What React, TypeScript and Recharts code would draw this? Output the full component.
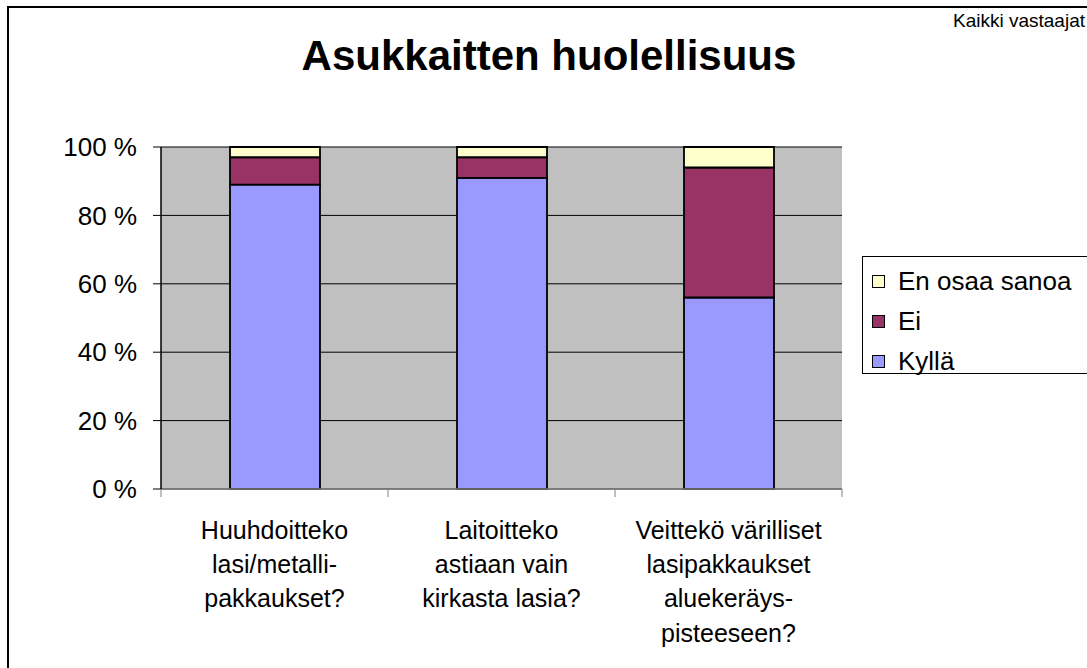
import { BarChart, Bar, XAxis, YAxis, CartesianGrid } from 'recharts'

const CATEGORIES = [
  'Huuhdoitteko\nlasi/metalli-\npakkaukset?',
  'Laitoitteko\nastiaan vain\nkirkasta lasia?',
  'Veittekö värilliset\nlasipakkaukset\naluekeräys-\npisteeseen?',
]
const KYLLA = [89, 91, 56]
const EI = [8, 6, 38]
const EN_OSAA = [3, 3, 6]
const Y_TICKS = [0, 20, 40, 60, 80, 100]

const SERIES = [
  { key: 'kylla', name: 'Kyllä', color: '#9999FF' },
  { key: 'ei', name: 'Ei', color: '#993366' },
  { key: 'enOsaa', name: 'En osaa sanoa', color: '#FFFFCC' },
]

const W = 1087
const H = 668
const Y_AXIS_W = 120
const X_AXIS_H = 160
const MARGIN = { top: 147, right: 245, bottom: H - 489 - X_AXIS_H, left: 161 - Y_AXIS_W }
const PLOT_W = W - MARGIN.left - MARGIN.right - Y_AXIS_W

const data = CATEGORIES.map((label, i) => ({
  label,
  kylla: KYLLA[i],
  ei: EI[i],
  enOsaa: EN_OSAA[i],
}))

const FONT = '"Liberation Sans", Arial, sans-serif'

function CategoryTick(props: any) {
  const { x, y, payload, index } = props
  const lines = String(payload.value).split('\n')
  const half = PLOT_W / CATEGORIES.length / 2
  const last = index === CATEGORIES.length - 1
  return (
    <g>
      <line x1={x - half} x2={x - half} y1={y} y2={y + 8} stroke="#808080" />
      {last && <line x1={x + half} x2={x + half} y1={y} y2={y + 8} stroke="#808080" />}
      <text x={x} y={y + 50} textAnchor="middle" fontSize={25} fill="#000" fontFamily={FONT}>
        {lines.map((l, i) => (
          <tspan key={i} x={x} dy={i === 0 ? 0 : 34.2}>{l}</tspan>
        ))}
      </text>
    </g>
  )
}

export default function App() {
  // legend is listed top-down in reverse stacking order, like the original
  const legendItems = [...SERIES].reverse()
  return (
    <div style={{ position: 'absolute', left: 0, top: 0, width: W, height: H, overflow: 'hidden', background: '#fff', fontFamily: FONT }}>
      <div style={{ position: 'absolute', left: 7, top: 6, width: 1200, height: 800, border: '2px solid #000' }} />
      <div style={{ position: 'absolute', right: 2, top: 11, fontSize: 19, lineHeight: '19px', color: '#000' }}>Kaikki vastaajat</div>
      <div style={{ position: 'absolute', left: 0, width: 1098, top: 35, textAlign: 'center', fontSize: 42, lineHeight: '42px', fontWeight: 'bold', color: '#000' }}>
        Asukkaitten huolellisuus
      </div>

      <div style={{ position: 'absolute', left: 0, top: 0 }}>
        <BarChart width={W} height={H} data={data} margin={MARGIN}>
          <CartesianGrid vertical={false} fill="#C0C0C0" stroke="#000" fillOpacity={1} />
          <XAxis
            dataKey="label"
            interval={0}
            height={X_AXIS_H}
            tickLine={false}
            tickSize={0}
            tickMargin={0}
            axisLine={{ stroke: '#808080', strokeWidth: 1.5 }}
            tick={<CategoryTick />}
          />
          <YAxis
            domain={[0, 100]}
            ticks={Y_TICKS}
            width={Y_AXIS_W}
            tickFormatter={(v: number) => `${v} %`}
            tick={{ fill: '#000', fontSize: 26, fontFamily: FONT }}
            tickSize={8}
            tickMargin={16}
            tickLine={{ stroke: '#000' }}
            axisLine={{ stroke: '#000', strokeWidth: 1.5 }}
          />
          <YAxis
            yAxisId="frame"
            orientation="right"
            width={0}
            tick={false}
            tickLine={false}
            axisLine={{ stroke: '#808080', strokeWidth: 1.5 }}
          />
          {SERIES.map(s => (
            <Bar
              key={s.key}
              dataKey={s.key}
              name={s.name}
              stackId="a"
              fill={s.color}
              stroke="#000"
              strokeWidth={1.8}
              barSize={90}
              isAnimationActive={false}
            />
          ))}
        </BarChart>
      </div>

      <div style={{ position: 'absolute', left: 862, top: 256, width: 240, height: 116, border: '1.5px solid #000', background: '#fff' }}>
        {legendItems.map((s, i) => (
          <div key={s.key} style={{ position: 'absolute', left: 9, top: 4 + i * 40, height: 40, display: 'flex', alignItems: 'center' }}>
            <div style={{ width: 11, height: 11, background: s.color, border: '1px solid #000', marginRight: 13 }} />
            <span style={{ fontSize: 26, color: '#000', whiteSpace: 'nowrap' }}>{s.name}</span>
          </div>
        ))}
      </div>
    </div>
  )
}
